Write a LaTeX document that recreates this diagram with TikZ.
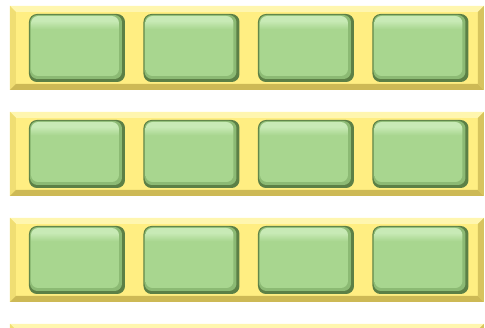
\documentclass[tikz,border=0pt]{standalone}

\definecolor{barmain}{RGB}{255,238,130}
\definecolor{barlight}{RGB}{255,246,175}
\definecolor{barside}{RGB}{240,222,115}
\definecolor{bardark}{RGB}{205,185,85}
\definecolor{btndark}{RGB}{92,128,70}
\definecolor{btnmid}{RGB}{140,186,116}
\definecolor{btnmain}{RGB}{168,214,143}
\definecolor{btnlight}{RGB}{200,234,182}

\pgfdeclareverticalshading{btnshade}{100bp}{color(0bp)=(btnmain); color(64bp)=(btnmain);
  color(71bp)=(btnlight); color(100bp)=(btnlight)}

\tikzset{
  bartop/.style={fill=barlight},
  barleft/.style={fill=barside},
  barright/.style={fill=bardark!80!barmain},
  barbottom/.style={fill=bardark},
  barface/.style={fill=barmain},
  btnshadow/.style={fill=btndark,rounded corners=4.5pt},
  btnedge/.style={fill=btnmid,rounded corners=4.2pt},
  btnface/.style={shading=btnshade,rounded corners=4pt},
}

\begin{document}
\begin{tikzpicture}[x=0.02cm,y=-0.02cm]
  \useasboundingbox (0,0) rectangle (485,328);
  \clip (0,0) rectangle (485,328);

  \foreach \r in {0,...,3}{
    \pgfmathsetmacro{\t}{6+106*\r}

    % Bevelled yellow bar.
    \fill[barface] (10,\t) rectangle (484,{\t+84});
    \fill[bartop] (10,\t) -- (484,\t) -- (478,{\t+6}) -- (16,{\t+6}) -- cycle;
    \fill[barleft] (10,\t) -- (16,{\t+6}) -- (16,{\t+78}) -- (10,{\t+84}) -- cycle;
    \fill[barright] (484,\t) -- (478,{\t+6}) -- (478,{\t+78}) -- (484,{\t+84}) -- cycle;
    \fill[barbottom] (10,{\t+84}) -- (16,{\t+78}) -- (478,{\t+78}) -- (484,{\t+84}) -- cycle;

    % Green buttons.
    \foreach \c in {0,...,3}{
      \pgfmathsetmacro{\x}{29+114.5*\c}
      \fill[btnshadow] (\x,{\t+8}) rectangle ({\x+96},{\t+76});
      \fill[btnedge] ({\x+1},{\t+9}) rectangle ({\x+93},{\t+73});
      \shade[btnface] ({\x+2},{\t+10}) rectangle ({\x+90},{\t+70});
    }
  }
\end{tikzpicture}
\end{document}
